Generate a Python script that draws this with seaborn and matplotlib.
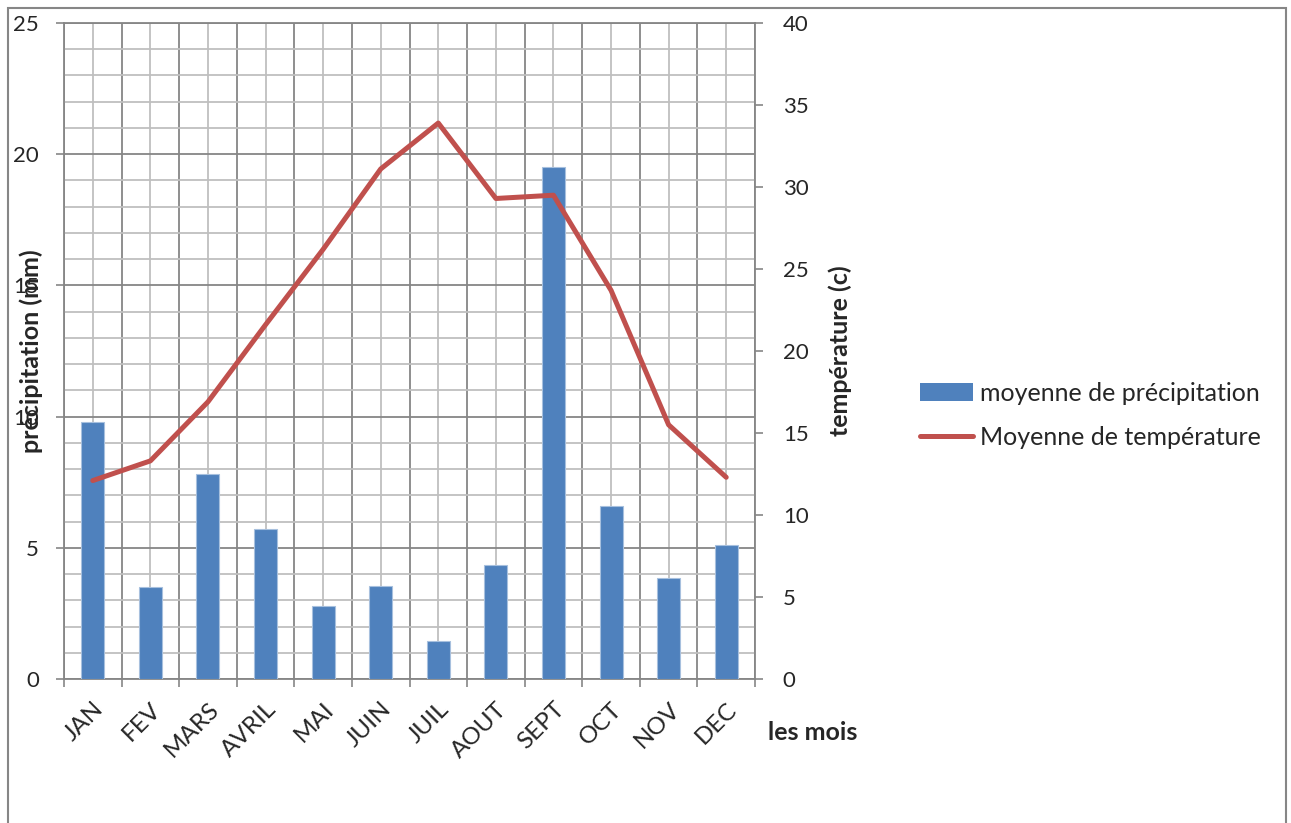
import numpy as np
import pandas as pd
import matplotlib
matplotlib.use("Agg")
import matplotlib.pyplot as plt
from matplotlib.patches import Patch, Rectangle
from matplotlib.lines import Line2D
from matplotlib.ticker import MultipleLocator, FixedLocator
import seaborn as sns

# Monthly climate data
mois = ["JAN", "FEV", "MARS", "AVRIL", "MAI", "JUIN",
        "JUIL", "AOUT", "SEPT", "OCT", "NOV", "DEC"]
precipitation = [9.8, 3.5, 7.8, 5.7, 2.8, 3.55, 1.46, 4.35, 19.5, 6.6, 3.85, 5.1]
temperature = [12.1, 13.3, 16.9, 21.6, 26.2, 31.1, 33.9, 29.3, 29.5, 23.7, 15.5, 12.3]

label_bar = "moyenne de précipitation"
label_line = "Moyenne de température"

sns.set_theme(style="white")
plt.rcParams["font.family"] = ["Lato", "DejaVu Sans"]

BLUE = "#4F81BD"
RED = "#C0504D"
DARK = "#868686"
LIGHT = "#BFBFBF"
TICK_FS = 16
XTICK_FS = 17.5
LABEL_FS = 18

W, H = 1291, 823
fig = plt.figure(figsize=(W / 100, H / 100), dpi=100)
fig.patch.set_facecolor("white")

# outer chart frame
fig.add_artist(Rectangle((8 / W, -0.05), (1286 - 8) / W, 1.05 - 8 / H,
                         transform=fig.transFigure, fill=False,
                         edgecolor=DARK, linewidth=1.5))

x0, x1 = 64, 755
y0, y1 = 679, 23
ax = fig.add_axes([x0 / W, 1 - y0 / H, (x1 - x0) / W, (y0 - y1) / H])

df = pd.DataFrame({"mois": mois, "precipitation": precipitation,
                   "temperature": temperature})

sns.barplot(data=df, x="mois", y="precipitation", color=BLUE, width=0.4,
            saturation=1, edgecolor="#A7C0DE", linewidth=0.8, ax=ax, zorder=3)

n = len(mois)
ax.set_xlim(-0.5, n - 0.5)
ax.set_ylim(0, 25)

# category boundaries as major ticks, centres carry the labels
ax.xaxis.set_major_locator(FixedLocator(np.arange(-0.5, n, 1.0)))
ax.xaxis.set_minor_locator(FixedLocator(np.arange(n)))
ax.set_xticklabels([""] * (n + 1))
ax.set_xticklabels(mois, minor=True, rotation=45, ha="right",
                   rotation_mode="anchor", fontsize=XTICK_FS)
ax.tick_params(axis="x", which="major", length=6, width=1.2, color=DARK,
               direction="out", bottom=True)
ax.tick_params(axis="x", which="minor", length=0, pad=14, bottom=True)

ax.yaxis.set_major_locator(MultipleLocator(5))
ax.yaxis.set_minor_locator(MultipleLocator(1))
ax.tick_params(axis="y", which="major", length=6, width=1.2, color=DARK,
               direction="out", left=True, labelsize=TICK_FS, pad=12)
ax.tick_params(axis="y", which="minor", length=0)

ax.grid(which="major", color=DARK, linewidth=1.3, zorder=0)
ax.grid(which="minor", color=LIGHT, linewidth=1.3, zorder=0)
ax.set_axisbelow(True)

for s in ax.spines.values():
    s.set_color(DARK)
    s.set_linewidth(1.3)

ax.set_xlabel("")
ax.set_ylabel("précipitation (mm)", fontsize=LABEL_FS, fontweight="bold")
ax.yaxis.set_label_coords(-0.030, 0.5)

# temperature on the secondary axis
ax2 = ax.twinx()
sns.lineplot(x=np.arange(n), y=temperature, color=RED, linewidth=3.6,
             ax=ax2, zorder=4)
ax2.set_ylim(0, 40)
ax2.set_xlim(-0.5, n - 0.5)
ax2.yaxis.set_major_locator(MultipleLocator(5))
ax2.tick_params(axis="y", which="major", length=6, width=1.2, color=DARK,
                direction="out", right=True, labelsize=TICK_FS, pad=14)
ax2.grid(False)
for s in ax2.spines.values():
    s.set_visible(False)
ax2.set_ylabel("température (c)", fontsize=LABEL_FS, fontweight="bold")
ax2.yaxis.set_label_coords(1.106, 0.5)

fig.text(768 / W, 1 - 733 / H, "les mois", fontsize=LABEL_FS, fontweight="bold",
         ha="left", va="center")

handles = [Patch(facecolor=BLUE, edgecolor="none"),
           Line2D([0], [0], color=RED, linewidth=3.6, solid_capstyle="round")]
fig.legend(handles, [label_bar, label_line], loc="center left",
           bbox_to_anchor=(920 / W, 1 - 415.5 / H), frameon=False,
           fontsize=18, handlelength=2.1, handletextpad=0.28,
           labelspacing=0.85, borderpad=0, borderaxespad=0)

fig.savefig("out.png", dpi=100, facecolor="white")
